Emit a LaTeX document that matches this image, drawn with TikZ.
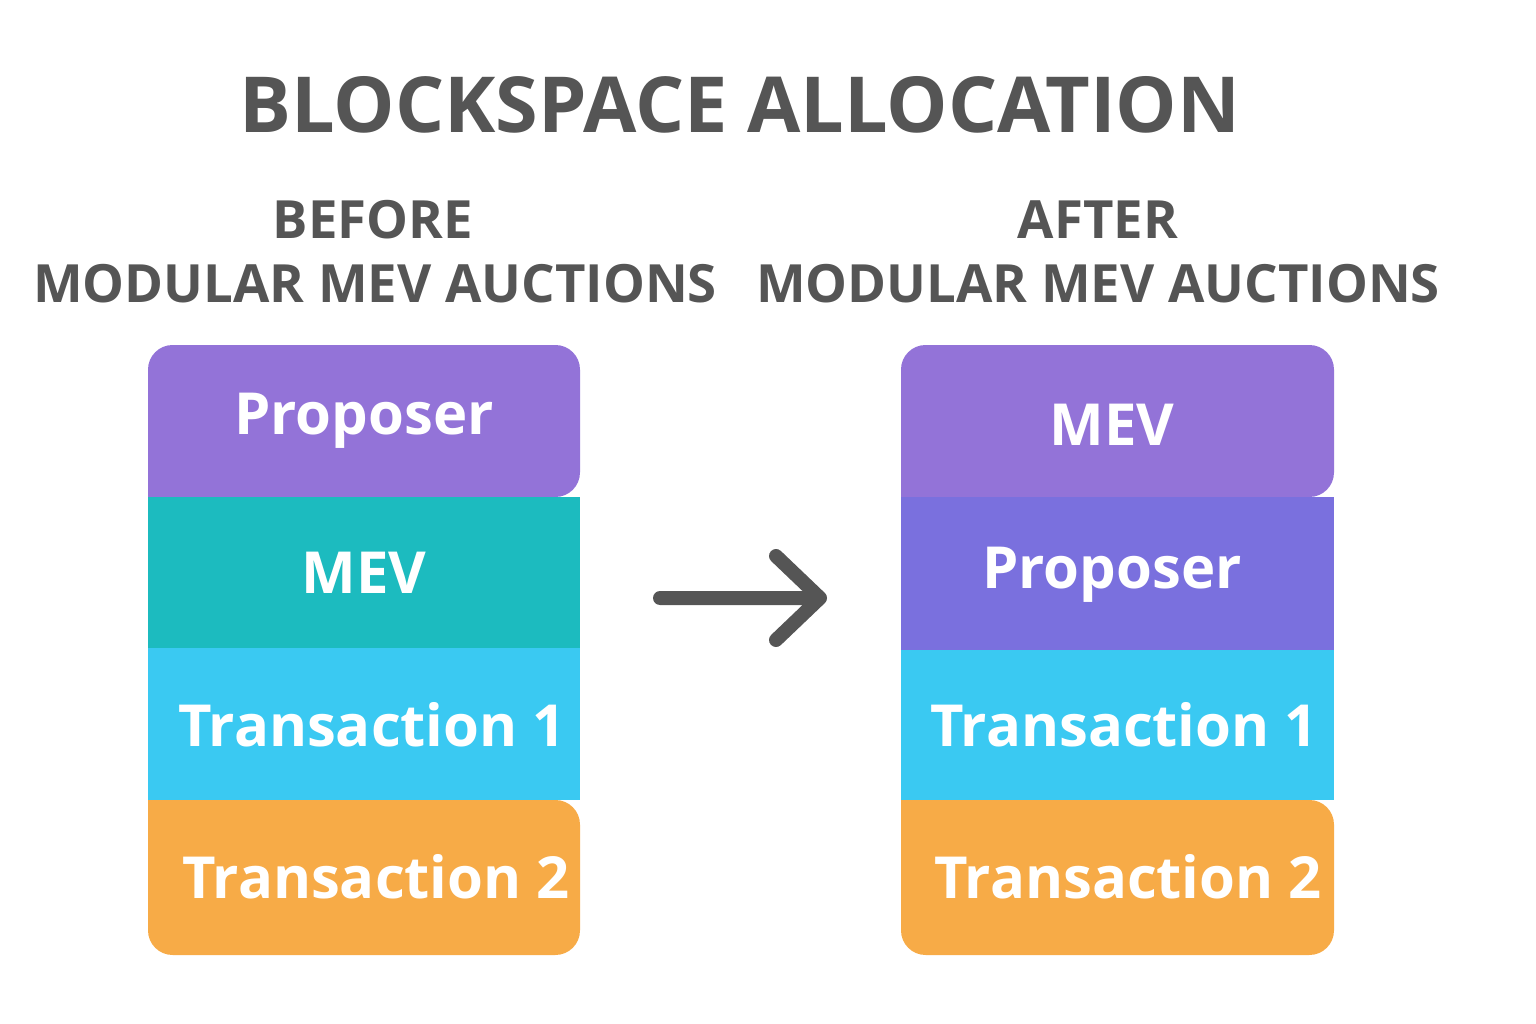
\documentclass[tikz,border=0pt]{standalone}
\usepackage{fontspec}
\setmainfont{Open Sans}
\definecolor{txtgrey}{HTML}{555555}
\definecolor{cpurple}{HTML}{9373D8}
\definecolor{cviolet}{HTML}{7A70DE}
\definecolor{cteal}{HTML}{1CBBBF}
\definecolor{ccyan}{HTML}{3AC9F2}
\definecolor{corange}{HTML}{F7AB47}
\begin{document}
\begin{tikzpicture}[x=0.02cm,y=-0.02cm,
  title/.style={text=txtgrey,font=\bfseries\fontsize{44}{50}\selectfont},
  sub/.style={text=txtgrey,font=\bfseries\fontsize{30}{34}\selectfont},
  lab/.style={text=white,font=\bfseries\fontsize{33}{38}\selectfont}]
\useasboundingbox (0,0) rectangle (1536,1024);
\node[title] (t) at (740,105) {BLOCKSPACE ALLOCATION};
\node[sub] (b1) at (373,220) {BEFORE};
\node[sub] (b2) at (375,284) {MODULAR MEV AUCTIONS};
\node[sub] (a1) at (1098,220) {AFTER};
\node[sub] (a2) at (1098,284) {MODULAR MEV AUCTIONS};
% left
\fill[cpurple,rounded corners=14] (148,497) -- (148,345) -- (580,345) -- (580,497) [sharp corners]-- cycle;
\fill[cteal] (148,497) rectangle (580,648);
\fill[ccyan] (148,648) rectangle (580,800);
\fill[corange,rounded corners=14] (148,800) -- (148,955) -- (580,955) -- (580,800) [sharp corners]-- cycle;
\node[lab] (l1) at (364,421) {Proposer};
\node[lab] (l2) at (364,573) {MEV};
\node[lab] (l3) at (372,725) {Transaction 1};
\node[lab] (l4) at (376,877) {Transaction 2};
% right
\fill[cpurple,rounded corners=14] (901,497) -- (901,345) -- (1334,345) -- (1334,497) [sharp corners]-- cycle;
\fill[cviolet] (901,497) rectangle (1334,650);
\fill[ccyan] (901,650) rectangle (1334,800);
\fill[corange,rounded corners=14] (901,800) -- (901,955) -- (1334,955) -- (1334,800) [sharp corners]-- cycle;
\node[lab] (r1) at (1112,425) {MEV};
\node[lab] (r2) at (1112,575) {Proposer};
\node[lab] (r3) at (1124,725) {Transaction 1};
\node[lab] (r4) at (1128,877) {Transaction 2};
% arrow
\coordinate (p) at (660,598);
\coordinate (q) at (820,598);
\draw[txtgrey,line width=0.28cm,line cap=round,line join=round] (p) -- (q) (776,556) -- (q) -- (776,640);
\end{tikzpicture}
\end{document}
